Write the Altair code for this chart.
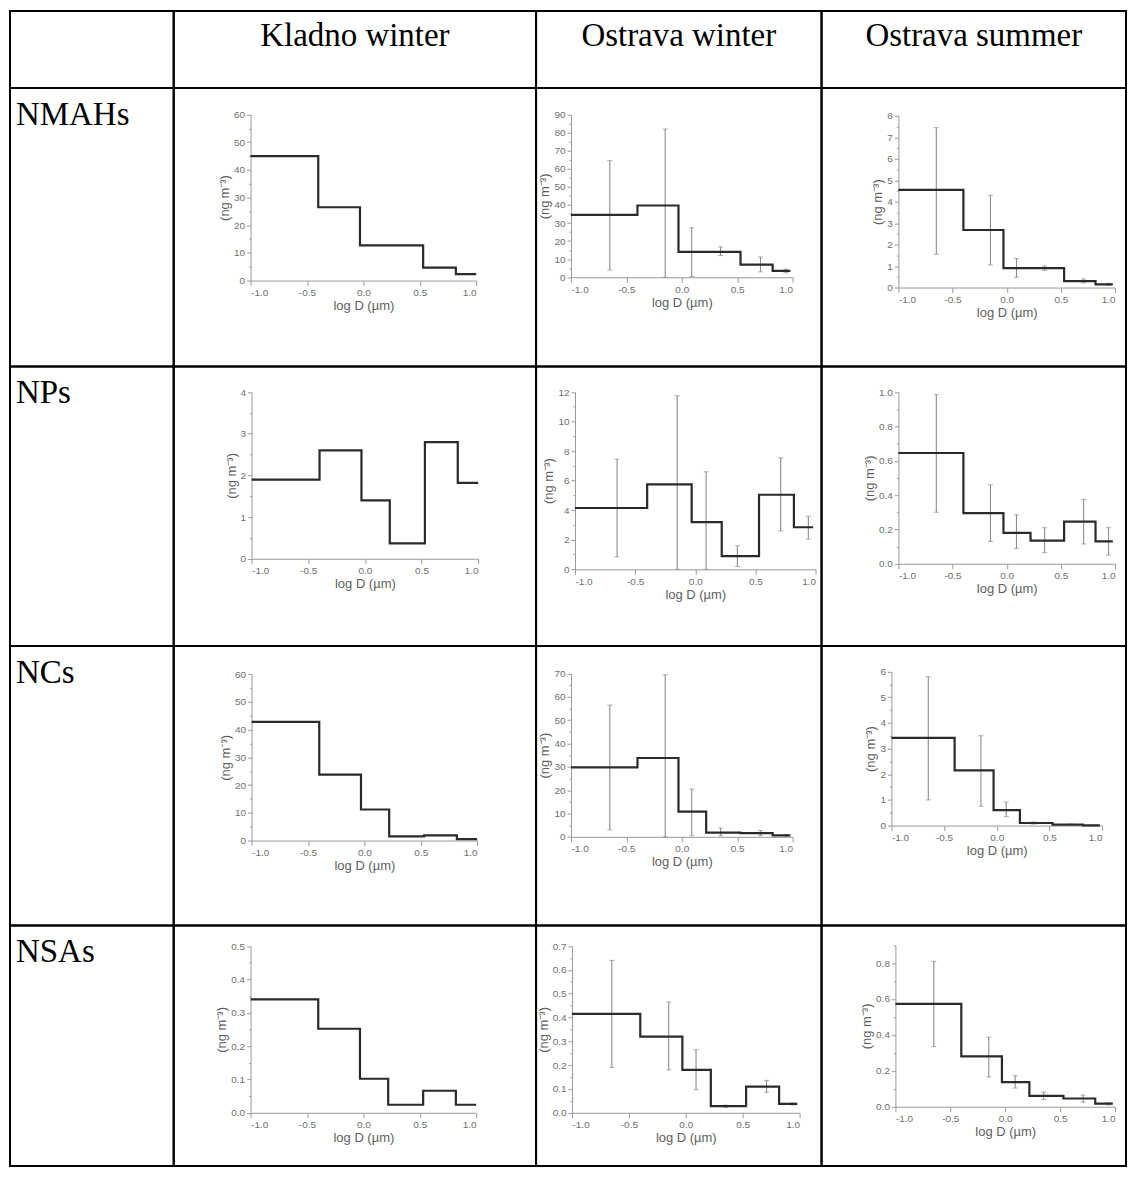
import altair as alt
import pandas as pd

SITES = ["Kladno winter", "Ostrava winter", "Ostrava summer"]
GROUPS = ["NMAHs", "NPs", "NCs", "NSAs"]

EDGES_KLADNO = [-1.0, -0.4, -0.03, 0.22, 0.53, 0.82, 1.0]
EDGES_OSTRAVA = [-1.0, -0.4, -0.03, 0.22, 0.53, 0.82, 0.98]
ERR_X = [-0.65, -0.15, 0.09, 0.35, 0.71, 0.94]

# ---- values (ng m-3) per size bin ----
NMAHS_K = [45.0, 26.5, 12.7, 12.7, 4.7, 2.3]
NMAHS_OW = [34.5, 39.7, 14.0, 14.0, 7.0, 3.5]
NMAHS_OW_LO = [4.0, 0.0, 0.4, 12.0, 3.0, 2.5]
NMAHS_OW_HI = [64.5, 82.0, 27.4, 16.8, 11.2, 4.5]
NMAHS_OS = [4.55, 2.68, 0.9, 0.9, 0.3, 0.15]
NMAHS_OS_LO = [1.55, 1.05, 0.48, 0.8, 0.22, 0.1]
NMAHS_OS_HI = [7.45, 4.3, 1.35, 1.0, 0.4, 0.2]

NPS_K = [1.9, 2.6, 1.4, 0.37, 2.8, 1.82]
NPS_OW = [4.15, 5.75, 3.2, 0.9, 5.05, 2.85]
NPS_OW_LO = [0.85, 0.0, 0.0, 0.2, 2.6, 2.05]
NPS_OW_HI = [7.45, 11.75, 6.6, 1.6, 7.55, 3.6]
NPS_OS = [0.645, 0.295, 0.18, 0.135, 0.245, 0.13]
NPS_OS_LO = [0.3, 0.13, 0.09, 0.065, 0.115, 0.05]
NPS_OS_HI = [0.985, 0.46, 0.285, 0.21, 0.375, 0.21]

NCS_K = [42.8, 23.8, 11.2, 1.5, 1.9, 0.5]
NCS_OW = [29.8, 33.8, 10.8, 1.8, 1.6, 0.6]
NCS_OW_LO = [3.0, 0.0, 0.5, 0.5, 0.6, 0.3]
NCS_OW_HI = [56.5, 69.5, 20.5, 3.8, 2.7, 0.9]
NCS_OS = [3.42, 2.15, 0.6, 0.1, 0.04, 0.01]
NCS_OS_LO = [1.0, 0.75, 0.35, 0.06, 0.02, 0.005]
NCS_OS_HI = [5.8, 3.5, 0.92, 0.14, 0.06, 0.02]

NSAS_K = [0.34, 0.252, 0.102, 0.024, 0.066, 0.024]
NSAS_OW = [0.415, 0.32, 0.18, 0.028, 0.11, 0.037]
NSAS_OW_LO = [0.19, 0.18, 0.097, 0.022, 0.086, 0.033]
NSAS_OW_HI = [0.64, 0.465, 0.265, 0.032, 0.136, 0.041]
NSAS_OS = [0.573, 0.28, 0.137, 0.061, 0.046, 0.017]
NSAS_OS_LO = [0.335, 0.166, 0.104, 0.04, 0.025, 0.01]
NSAS_OS_HI = [0.81, 0.388, 0.173, 0.082, 0.065, 0.022]

DATA = {
    ("NMAHs", "Kladno winter"): (NMAHS_K, None, None),
    ("NMAHs", "Ostrava winter"): (NMAHS_OW, NMAHS_OW_LO, NMAHS_OW_HI),
    ("NMAHs", "Ostrava summer"): (NMAHS_OS, NMAHS_OS_LO, NMAHS_OS_HI),
    ("NPs", "Kladno winter"): (NPS_K, None, None),
    ("NPs", "Ostrava winter"): (NPS_OW, NPS_OW_LO, NPS_OW_HI),
    ("NPs", "Ostrava summer"): (NPS_OS, NPS_OS_LO, NPS_OS_HI),
    ("NCs", "Kladno winter"): (NCS_K, None, None),
    ("NCs", "Ostrava winter"): (NCS_OW, NCS_OW_LO, NCS_OW_HI),
    ("NCs", "Ostrava summer"): (NCS_OS, NCS_OS_LO, NCS_OS_HI),
    ("NSAs", "Kladno winter"): (NSAS_K, None, None),
    ("NSAs", "Ostrava winter"): (NSAS_OW, NSAS_OW_LO, NSAS_OW_HI),
    ("NSAs", "Ostrava summer"): (NSAS_OS, NSAS_OS_LO, NSAS_OS_HI),
}

# y axis: (max, major step, label format)
Y_AXES = {
    ("NMAHs", "Kladno winter"): (60, 10, "d"),
    ("NMAHs", "Ostrava winter"): (90, 10, "d"),
    ("NMAHs", "Ostrava summer"): (8, 1, "d"),
    ("NPs", "Kladno winter"): (4, 1, "d"),
    ("NPs", "Ostrava winter"): (12, 2, "d"),
    ("NPs", "Ostrava summer"): (1.0, 0.2, ".1f"),
    ("NCs", "Kladno winter"): (60, 10, "d"),
    ("NCs", "Ostrava winter"): (70, 10, "d"),
    ("NCs", "Ostrava summer"): (6, 1, "d"),
    ("NSAs", "Kladno winter"): (0.5, 0.1, ".1f"),
    ("NSAs", "Ostrava winter"): (0.7, 0.1, ".1f"),
    ("NSAs", "Ostrava summer"): (0.9, 0.2, ".1f"),
}

# ---- layout (page pixels) ----
COL_X = [9, 173, 536, 822, 1127]
ROW_Y = [9, 86, 365, 645, 925, 1166]

# plot boxes: x at -1, x at 1, y at 0, y at top
BOX = {
    ("NMAHs", "Kladno winter"): (250, 476, 279, 112.7),
    ("NMAHs", "Ostrava winter"): (571, 793, 275.7, 112.7),
    ("NMAHs", "Ostrava summer"): (899, 1116, 286, 114),
    ("NPs", "Kladno winter"): (251, 478, 557.7, 390.7),
    ("NPs", "Ostrava winter"): (575, 816, 568.3, 390.7),
    ("NPs", "Ostrava summer"): (899, 1116, 562.7, 390.7),
    ("NCs", "Kladno winter"): (251, 477, 840, 673.3),
    ("NCs", "Ostrava winter"): (571, 793, 836.3, 672.7),
    ("NCs", "Ostrava summer"): (892, 1103, 825, 670.7),
    ("NSAs", "Kladno winter"): (250, 476, 1112.7, 945.7),
    ("NSAs", "Ostrava winter"): (572, 800, 1112.7, 945.7),
    ("NSAs", "Ostrava summer"): (896, 1116, 1106.7, 944.7),
}

LINE_COLOR = "#2a2a2a"
ERR_COLOR = "#8c8c8c"
SERIF = "Liberation Serif"
MINUS = "\u2212"


def panel(g, s, cx, cy, cw, ch):
    vals, lo, hi = DATA[(g, s)]
    edges = EDGES_KLADNO if s == SITES[0] else EDGES_OSTRAVA
    ymax, ystep, yfmt = Y_AXES[(g, s)]
    x0, x1, y0, y1 = BOX[(g, s)]
    rx = [x0 - cx, x1 - cx]
    ry = [y0 - cy, y1 - cy]
    xscale = alt.Scale(domain=[-1, 1], range=rx, nice=False, zero=False)
    yscale = alt.Scale(domain=[0, ymax], range=ry, nice=False, zero=False)
    minor = ystep / 2
    n = int(round(ymax / minor))
    yvals = [round(i * minor, 6) for i in range(n + 1)]
    major = f"abs(datum.value / {ystep} - round(datum.value / {ystep})) < 0.001"
    yaxis = alt.Axis(
        values=yvals, orient="left", offset=-rx[0], title="(ng m\u207b\u00b3)",
        labelExpr=f"{major} ? format(datum.value, '{yfmt}') : ''",
        tickSize={"condition": {"test": f"!({major})", "value": 2}, "value": 4},
        grid=False,
    )
    xaxis = alt.Axis(
        values=[-1, -0.5, 0, 0.5, 1], orient="bottom", offset=-(ch - ry[0]),
        title="log D (\u00b5m)", grid=False,
        labelExpr=f"replace(format(datum.value, '.1f'), '{MINUS}', '-')",
    )
    step_df = pd.DataFrame({"x": edges, "y": list(vals) + [vals[-1]]})
    X = alt.X("x:Q", scale=xscale, axis=xaxis)
    line = alt.Chart(step_df).mark_line(
        interpolate="step-after", color=LINE_COLOR, strokeWidth=2.2
    ).encode(x=X, y=alt.Y("y:Q", scale=yscale, axis=yaxis))
    layers = []
    if lo is not None:
        err_df = pd.DataFrame({"x": ERR_X, "lo": lo, "hi": hi})
        rule = alt.Chart(err_df).mark_rule(color=ERR_COLOR, strokeWidth=1.1).encode(
            x=X, y=alt.Y("lo:Q", scale=yscale, axis=yaxis), y2="hi:Q")
        cap_lo = alt.Chart(err_df).mark_tick(
            orient="horizontal", size=5, thickness=1, color=ERR_COLOR
        ).encode(x=X, y=alt.Y("lo:Q", scale=yscale, axis=yaxis))
        cap_hi = alt.Chart(err_df).mark_tick(
            orient="horizontal", size=5, thickness=1, color=ERR_COLOR
        ).encode(x=X, y=alt.Y("hi:Q", scale=yscale, axis=yaxis))
        layers += [rule, cap_lo, cap_hi]
    layers.append(line)
    return alt.layer(*layers).properties(width=cw, height=ch)


def text_cell(txt, cw, ch, x, y, align):
    return alt.Chart(pd.DataFrame({"t": [txt]})).mark_text(
        font=SERIF, fontSize=33, color="#000000", align=align, baseline="middle"
    ).encode(text="t:N", x=alt.value(x), y=alt.value(y)).properties(width=cw, height=ch)


widths = [COL_X[i + 1] - COL_X[i] for i in range(4)]
heights = [ROW_Y[i + 1] - ROW_Y[i] for i in range(5)]

cells = [text_cell("", widths[0], heights[0], 5, 24, "left")]
for j, s in enumerate(SITES):
    cells.append(text_cell(s, widths[j + 1], heights[0], widths[j + 1] / 2, 25, "center"))

for i, g in enumerate(GROUPS):
    cells.append(text_cell(g, widths[0], heights[i + 1], 6, 27, "left"))
    for j, s in enumerate(SITES):
        cells.append(panel(g, s, COL_X[j + 1], ROW_Y[i + 1], widths[j + 1], heights[i + 1]))

chart = alt.concat(*cells, columns=4, spacing=0, bounds="flush").properties(
    padding={"left": 1, "top": 1, "right": 1, "bottom": 1}
).configure_view(
    stroke="#000000", strokeWidth=2
).configure_axis(
    domainColor="#9a9a9a", domainWidth=1, tickColor="#9a9a9a", tickWidth=1,
    labelColor="#6e6e6e", labelFont="Liberation Sans", labelFontSize=10,
    labelPadding=2, titleColor="#5e5e5e", titleFont="Liberation Sans",
    titleFontSize=13, titleFontWeight="normal", titlePadding=2,
)

chart.save("out.html", embed_options={"renderer": "svg", "actions": False})
